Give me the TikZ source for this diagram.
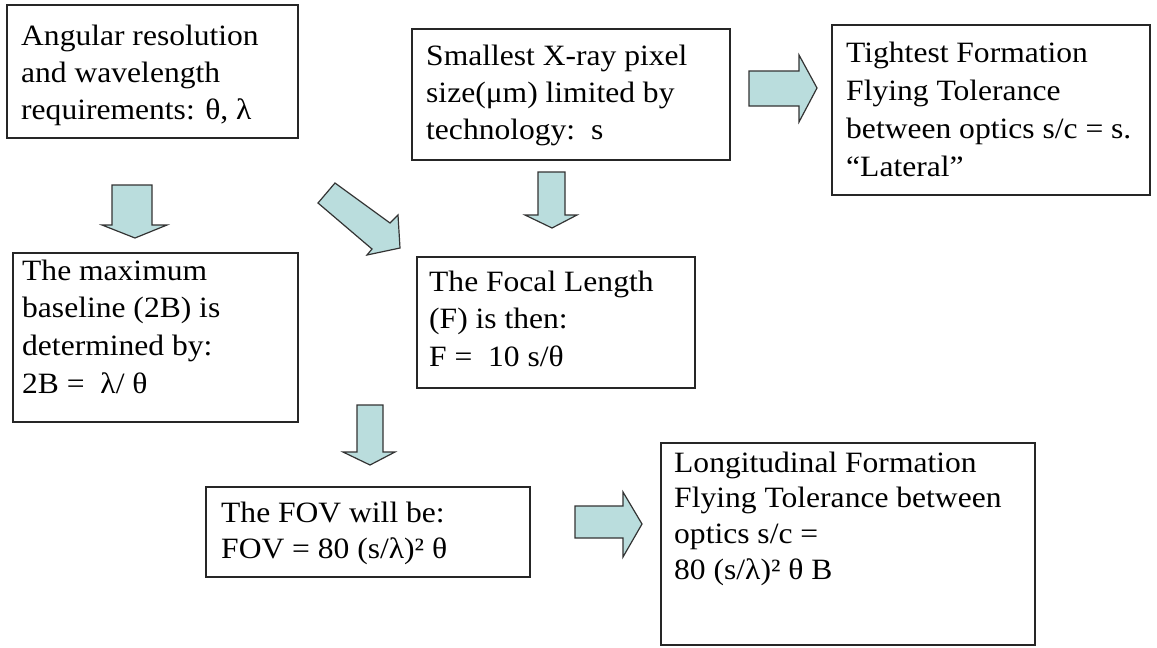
\documentclass[tikz,border=0pt]{standalone}
\usepackage{fontspec}
\setmainfont{Liberation Serif}[FakeStretch=1.07]
\usetikzlibrary{fit}
\definecolor{arrowfill}{RGB}{186,221,221}
\newcommand\fstrut{\rule{0pt}{30pt}}
\tikzset{
  box/.style={draw=black!85, line width=1.3pt, rectangle, inner sep=0pt},
  txt/.style={anchor=north west, inner sep=0pt, align=left, font=\fontsize{29.5}{37}\selectfont},
  blockarrow/.style={fill=arrowfill, draw=black!80, line width=1.2pt, line join=miter},
}
\begin{document}
\begin{tikzpicture}[x=1pt, y=-1pt]
\useasboundingbox (0,0) rectangle (1157,648);

% boxes
\node[box, fit={(7,5) (298,138)}] (A) {};
\node[box, fit={(412,29) (730,160)}] (B) {};
\node[box, fit={(832,25) (1150,195)}] (C) {};
\node[box, fit={(13,253) (298,422)}] (D) {};
\node[box, fit={(417,257) (695,388)}] (E) {};
\node[box, fit={(206,487) (530,577)}] (F) {};
\node[box, fit={(661,443) (1035,645)}] (G) {};

% texts
\node[txt] (At) at (21,15) {\fstrut Angular resolution\\and wavelength\\requirements: θ, λ};
\node[txt] (Bt) at (426,35) {\fstrut Smallest X-ray pixel\\size(μm) limited by\\technology:\ \ s};
\node[txt, font=\fontsize{29.5}{38}\selectfont] (Ct) at (846,32) {\fstrut Tightest Formation\\Flying Tolerance\\between optics s/c = s.\\“Lateral”};
\node[txt, font=\fontsize{29.5}{37.7}\selectfont] (Dt) at (22,250) {\fstrut The maximum\\baseline (2B) is\\determined by:\\2B =\ \ λ/ θ};
\node[txt, font=\fontsize{29.5}{37.5}\selectfont] (Et) at (429,261) {\fstrut The Focal Length\\(F) is then:\\F =\ \ 10 s/θ};
\node[txt, font=\fontsize{29.5}{36}\selectfont] (Ft) at (221,492) {\fstrut The FOV will be:\\FOV = 80 (s/λ)² θ};
\node[txt, font=\fontsize{29.5}{35.7}\selectfont] (Gt) at (674,442) {\fstrut Longitudinal Formation\\Flying Tolerance between\\optics s/c =\\80 (s/λ)² θ B};

% block arrows
\draw[blockarrow] (112,185) -- (152,185) -- (152,225) -- (167,225) -- (135,238) -- (102,225) -- (112,225) -- cycle;
\draw[blockarrow] (538,172) -- (565,172) -- (565,215) -- (577,215) -- (552,228) -- (525,215) -- (538,215) -- cycle;
\draw[blockarrow] (357,405) -- (383,405) -- (383,452) -- (395,452) -- (370,465) -- (343,452) -- (357,452) -- cycle;
\draw[blockarrow] (749,71) -- (799,71) -- (799,55) -- (817,88) -- (799,122) -- (799,106) -- (749,106) -- cycle;
\draw[blockarrow] (575,506) -- (623,506) -- (623,492) -- (642,524) -- (623,557) -- (623,538) -- (575,538) -- cycle;
\draw[blockarrow] (335,183) -- (390,223) -- (398,215) -- (400,248) -- (367,255) -- (372,249) -- (318,203) -- cycle;
\end{tikzpicture}
\end{document}
